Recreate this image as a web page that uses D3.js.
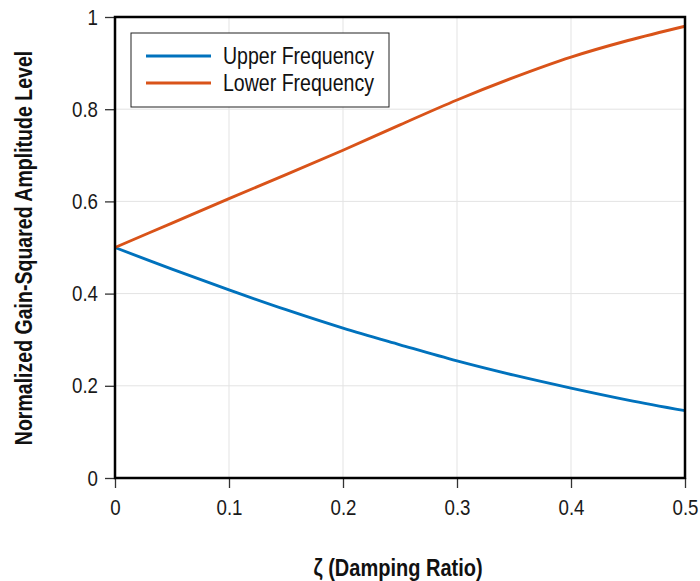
<!DOCTYPE html>
<html><head><meta charset="utf-8">
<script src="https://cdn.jsdelivr.net/npm/d3@7"></script>
<style>body{margin:0;background:#fff}svg{display:block}text{font-family:"Liberation Sans",Arial,sans-serif}</style>
</head><body><svg id="c" width="700" height="581"></svg>
<script>
const zeta = [0, 0.05, 0.1, 0.15, 0.2, 0.25, 0.3, 0.35, 0.4, 0.45, 0.5];
const upperFreq = [0.5, 0.453, 0.408, 0.365, 0.325, 0.289, 0.254, 0.223, 0.195, 0.169, 0.146];
const lowerFreq = [0.5, 0.553, 0.606, 0.658, 0.711, 0.766, 0.820, 0.869, 0.913, 0.949, 0.980];
const xTicks = [0, 0.1, 0.2, 0.3, 0.4, 0.5];
const yTicks = [0, 0.2, 0.4, 0.6, 0.8, 1];
const seriesNames = ["Upper Frequency", "Lower Frequency"];
const colors = ["#0072BD", "#D95319"];

const L = 115, R = 685, T = 17, B = 478;
const SX = 0.85; // narrow-font emulation
const svg = d3.select("#c");
const x = d3.scaleLinear().domain([0, 0.5]).range([L, R]);
const y = d3.scaleLinear().domain([0, 1]).range([B, T]);

// grid
svg.append("g").selectAll("line").data(xTicks).join("line")
  .attr("x1", d => x(d)).attr("x2", d => x(d)).attr("y1", T).attr("y2", B)
  .attr("stroke", "#e3e3e3").attr("stroke-width", 1);
svg.append("g").selectAll("line").data(yTicks).join("line")
  .attr("y1", d => y(d)).attr("y2", d => y(d)).attr("x1", L).attr("x2", R)
  .attr("stroke", "#e3e3e3").attr("stroke-width", 1);

// axes
const xa = svg.append("g").attr("transform", `translate(0,${B})`)
  .call(d3.axisBottom(x).tickValues(xTicks).tickFormat(d => d3.format("")(d)).tickSize(10).tickPadding(11));
const ya = svg.append("g").attr("transform", `translate(${L},0)`)
  .call(d3.axisLeft(y).tickValues(yTicks).tickFormat(d => d3.format("")(d)).tickSize(10).tickPadding(7));
[xa, ya].forEach(a => {
  a.select(".domain").remove();
  a.selectAll(".tick line").attr("stroke", "#333").attr("stroke-width", 1.3);
  a.selectAll("text").attr("font-size", 22).attr("fill", "#1a1a1a")
    .attr("font-family", '"Liberation Sans",Arial,sans-serif')
    .attr("transform", `scale(${SX},1)`);
});
ya.selectAll("text").attr("x", -17 / SX);

// lines
const line = d3.line().x(d => x(d[0])).y(d => y(d[1])).curve(d3.curveCatmullRom.alpha(0.5));
[upperFreq, lowerFreq].forEach((s, i) => {
  svg.append("path").datum(zeta.map((z, j) => [z, s[j]]))
    .attr("d", line).attr("fill", "none").attr("stroke", colors[i]).attr("stroke-width", 2.9);
});

// frame
svg.append("rect").attr("x", L).attr("y", T).attr("width", R - L).attr("height", B - T)
  .attr("fill", "none").attr("stroke", "#000").attr("stroke-width", 2.5);

// legend
const lg = svg.append("g");
lg.append("rect").attr("x", 131).attr("y", 33).attr("width", 258).attr("height", 74)
  .attr("fill", "#fff").attr("stroke", "#222").attr("stroke-width", 1);
seriesNames.forEach((n, i) => {
  const yy = 56 + i * 27;
  lg.append("line").attr("x1", 146).attr("x2", 211).attr("y1", yy).attr("y2", yy)
    .attr("stroke", colors[i]).attr("stroke-width", 2.9);
  lg.append("text").attr("transform", `translate(223,${yy + 8}) scale(${SX},1)`)
    .attr("font-size", 23).attr("fill", "#111").text(n);
});

// axis titles
svg.append("text").attr("transform", `translate(398,576) scale(0.87,1)`).attr("text-anchor", "middle")
  .attr("font-size", 23).attr("font-weight", "bold").attr("fill", "#111").text("ζ (Damping Ratio)");
svg.append("text").attr("transform", `translate(32,248) rotate(-90) scale(${SX},1)`).attr("text-anchor", "middle")
  .attr("font-size", 23).attr("font-weight", "bold").attr("fill", "#111").text("Normalized Gain-Squared Amplitude Level");
</script></body></html>
